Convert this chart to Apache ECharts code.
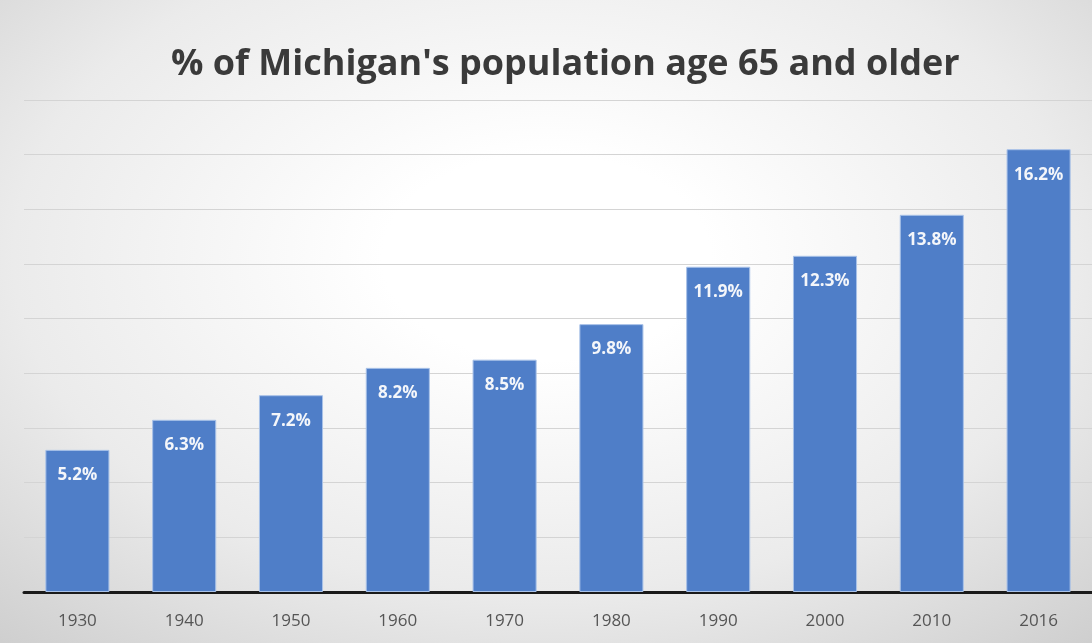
<!DOCTYPE html>
<html><head><meta charset="utf-8">
<script src="https://cdn.jsdelivr.net/npm/echarts@6/dist/echarts.min.js"></script>
<style>
html,body{margin:0;padding:0;}
#c{width:1092px;height:643px;background:radial-gradient(ellipse 75% 80% at 50% 40%, #ffffff 20%, #ebebeb 65%, #cfcfcf 100%);}
</style></head>
<body><div id="c"></div>
<script>
const categories = ['1930','1940','1950','1960','1970','1980','1990','2000','2010','2016'];
const values = [5.2, 6.3, 7.2, 8.2, 8.5, 9.8, 11.9, 12.3, 13.8, 16.2];
const titleText = "% of Michigan's population age 65 and older";

const chart = echarts.init(document.getElementById('c'));
chart.setOption({
  backgroundColor: 'transparent',
  animation: false,
  title: {
    text: titleText, left: 166, top: 42,
    textStyle: {fontFamily: 'Open Sans', fontWeight: 'bold', fontSize: 36, color: '#3a3a3a'}
  },
  grid: {left: 24, right: -2, top: 100, bottom: 51, containLabel: false},
  xAxis: {
    type: 'category', data: categories,
    axisLine: {lineStyle: {color: '#1a1a1a', width: 3}},
    axisTick: {show: false},
    axisLabel: {color: '#555', fontSize: 17, fontFamily: 'Open Sans', margin: 21}
  },
  yAxis: {
    type: 'value', min: 0, max: 18, interval: 2,
    axisLine: {show: false}, axisTick: {show: false}, axisLabel: {show: false},
    splitLine: {lineStyle: {color: '#d4d4d4', width: 1}}
  },
  series: [{
    type: 'bar', data: values, barWidth: '60%',
    itemStyle: {color: '#4f7ec8', borderColor: '#a9c2e8', borderWidth: 1},
    label: {
      show: true, position: 'insideTop', distance: 17,
      formatter: p => p.value.toFixed(1) + '%',
      color: '#f4f6fa', fontWeight: 'bold', fontSize: 17, fontFamily: 'Open Sans'
    }
  }]
});
</script></body></html>
